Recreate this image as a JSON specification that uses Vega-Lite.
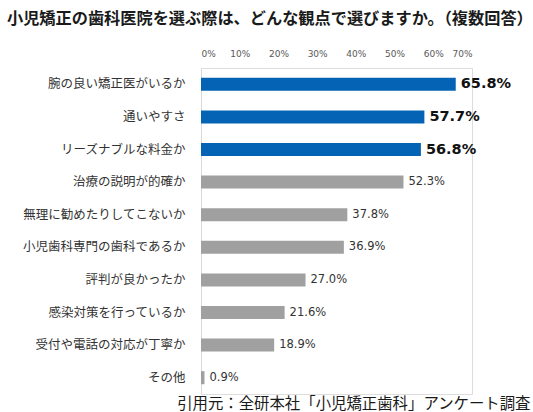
{
  "$schema": "https://vega.github.io/schema/vega-lite/v6.json",
  "autosize": "none",
  "width": 271,
  "height": 326,
  "padding": {"left": 201, "top": 68, "right": 61, "bottom": 18},
  "background": "white",
  "title": {
    "text": "小児矯正の歯科医院を選ぶ際は、どんな観点で選びますか。（複数回答）",
    "anchor": "start",
    "frame": "group",
    "dx": -194,
    "offset": 22,
    "font": "Noto Sans CJK JP",
    "fontSize": 16.2,
    "fontWeight": "bold",
    "color": "#1a1a1a"
  },
  "data": {
    "values": [
      {"item": "腕の良い矯正医がいるか", "value": 0.658},
      {"item": "通いやすさ", "value": 0.577},
      {"item": "リーズナブルな料金か", "value": 0.568},
      {"item": "治療の説明が的確か", "value": 0.523},
      {"item": "無理に勧めたりしてこないか", "value": 0.378},
      {"item": "小児歯科専門の歯科であるか", "value": 0.369},
      {"item": "評判が良かったか", "value": 0.27},
      {"item": "感染対策を行っているか", "value": 0.216},
      {"item": "受付や電話の対応が丁寧か", "value": 0.189},
      {"item": "その他", "value": 0.009}
    ]
  },
  "encoding": {
    "y": {
      "field": "item",
      "type": "nominal",
      "sort": null,
      "scale": {"paddingInner": 0.6, "paddingOuter": 0.3},
      "axis": {
        "title": null,
        "ticks": false,
        "domainColor": "#d9d9d9",
        "labelPadding": 16,
        "labelFont": "Noto Sans CJK JP",
        "labelFontSize": 12.5,
        "labelColor": "#333333"
      }
    }
  },
  "layer": [
    {
      "mark": {"type": "bar"},
      "encoding": {
        "x": {
          "field": "value",
          "type": "quantitative",
          "scale": {"domain": [0, 0.7], "nice": false},
          "axis": {
            "orient": "top",
            "format": ".0%",
            "values": [0, 0.1, 0.2, 0.3, 0.4, 0.5, 0.6, 0.7],
            "title": null,
            "grid": false,
            "ticks": false,
            "domain": false,
            "labelPadding": 10,
            "labelFont": "DejaVu Sans",
            "labelFontSize": 9,
            "labelColor": "#595959"
          }
        },
        "color": {
          "condition": {"test": "datum.value > 0.55", "value": "#0563b5"},
          "value": "#a0a0a0"
        }
      }
    },
    {
      "mark": {"type": "text", "opacity": 0},
      "encoding": {
        "x": {
          "field": "value",
          "type": "quantitative",
          "axis": {
            "orient": "bottom",
            "title": "引用元：全研本社「小児矯正歯科」アンケート調査",
            "titleFont": "Noto Sans CJK JP",
            "titleFontSize": 15.4,
            "titleFontWeight": "normal",
            "titleColor": "#1a1a1a",
            "titleAnchor": "end",
            "titleAlign": "right",
            "titleBaseline": "middle",
            "titleX": 329,
            "titleY": 9,
            "labels": false,
            "ticks": false,
            "domain": false,
            "grid": false
          }
        },
        "text": {"value": ""}
      }
    },
    {
      "transform": [{"filter": "datum.value > 0.55"}],
      "mark": {"type": "text", "align": "left", "dx": 5, "font": "DejaVu Sans", "fontSize": 14.5, "fontWeight": "bold", "color": "#111111"},
      "encoding": {
        "x": {"field": "value", "type": "quantitative", "axis": null},
        "text": {"field": "value", "type": "quantitative", "format": ".1%"}
      }
    },
    {
      "transform": [{"filter": "datum.value <= 0.55"}],
      "mark": {"type": "text", "align": "left", "dx": 5, "font": "DejaVu Sans", "fontSize": 11.5, "color": "#333333"},
      "encoding": {
        "x": {"field": "value", "type": "quantitative", "axis": null},
        "text": {"field": "value", "type": "quantitative", "format": ".1%"}
      }
    }
  ]
}
